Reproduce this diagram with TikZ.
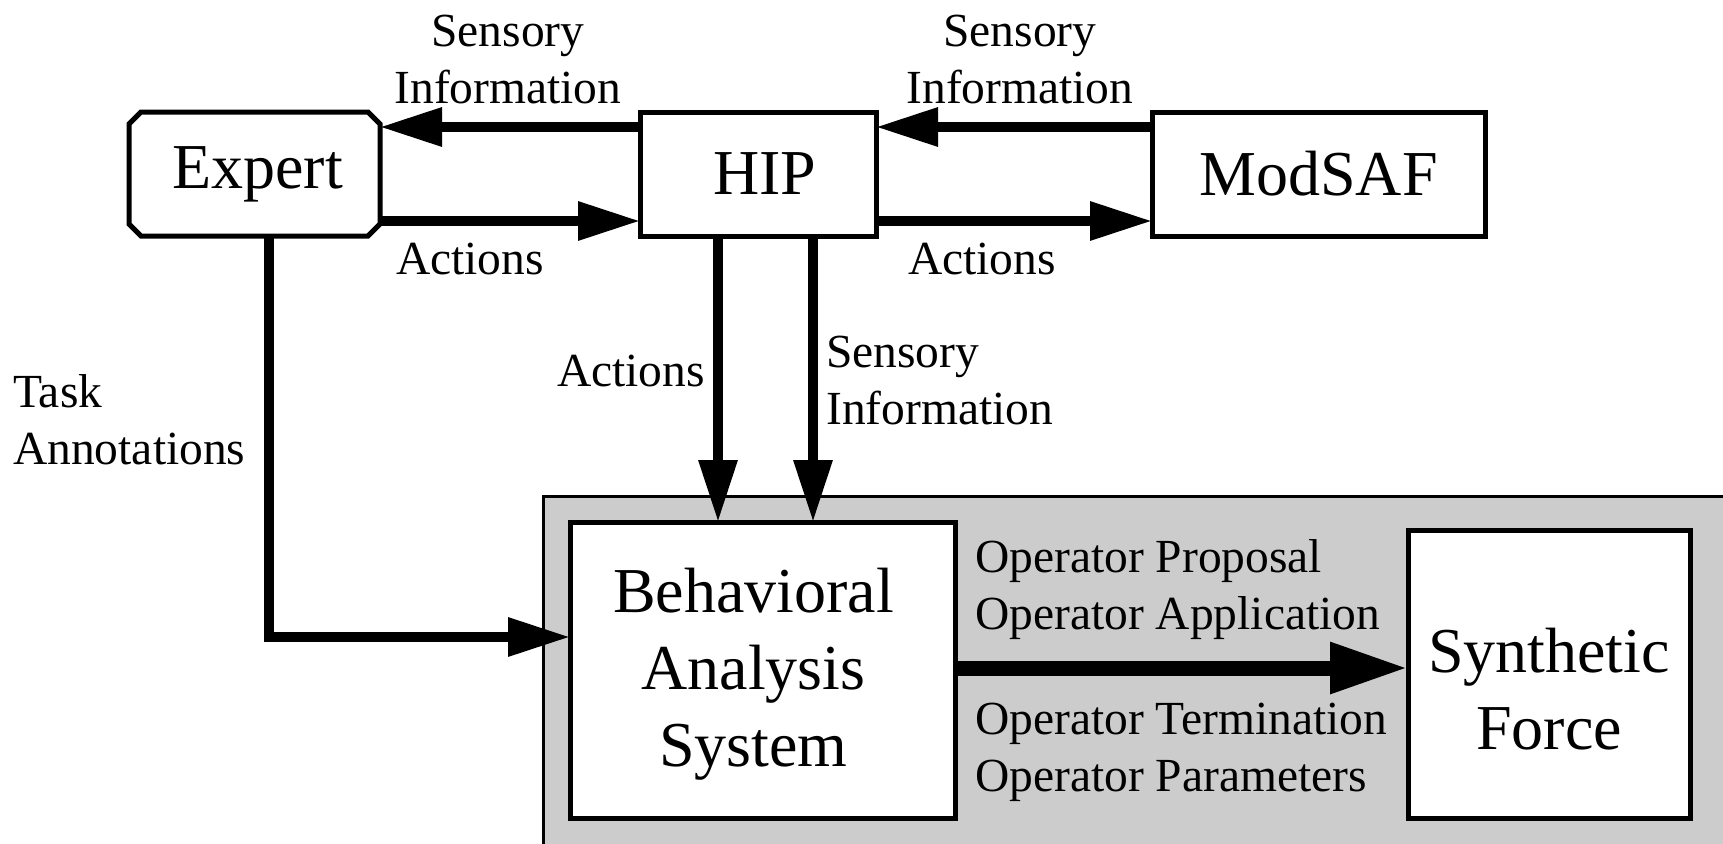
\documentclass[tikz,border=0pt]{standalone}
\usepackage{fontspec}
\setmainfont{Liberation Serif}
\usetikzlibrary{arrows.meta}
\definecolor{panelgray}{RGB}{204,204,204}
\tikzset{
  box/.style={draw=black, line width=5pt, fill=white, inner sep=0pt, outer sep=0pt, align=center, font=\fontsize{64}{77}\selectfont},
  bigtext/.style={inner sep=0pt, align=center, font=\fontsize{64}{77}\selectfont},
  lab/.style={inner sep=0pt, font=\fontsize{47.5}{57}\selectfont},
  flow/.style={line width=9.5pt, line join=miter, -{Triangle[length=62pt,width=37pt]}},
  bigflow/.style={line width=15pt, -{Triangle[length=78pt,width=48pt]}},
}
\begin{document}
\begin{tikzpicture}[x=1pt,y=-1pt]
\useasboundingbox (0,0) rectangle (1723,843);
% gray panel
\draw[fill=panelgray, line width=3pt] (543,496) rectangle (1740,860);
% boxes
\node[box, draw=none, fill=none, minimum width=251pt, minimum height=124pt] (expert) at (254.5,174) {};
\draw[line width=5pt, fill=white, line join=miter]
  ([xshift=12pt]expert.north west) -- ([xshift=-12pt]expert.north east) -- ([yshift=-12pt]expert.north east)
  -- ([yshift=12pt]expert.south east) -- ([xshift=-12pt]expert.south east) -- ([xshift=12pt]expert.south west)
  -- ([yshift=12pt]expert.south west) -- ([yshift=-12pt]expert.north west) -- cycle;
\node[bigtext] (experttext) at ([xshift=3pt]expert.center) {Expert};
\node[box, minimum width=236pt, minimum height=124pt] (hip) at (758,174) {};
\node[bigtext] (hiptext) at ([xshift=7pt]hip.center) {HIP};
\node[box, minimum width=333pt, minimum height=124pt] (modsaf) at (1318.5,174) {ModSAF};
\node[box, minimum width=385pt, minimum height=296pt] (bas) at (762.5,670) {};
\node[bigtext] (bastext) at ([xshift=-9pt,yshift=-4pt]bas.center) {Behavioral\\Analysis\\System};
\node[box, minimum width=282pt, minimum height=288pt] (sf) at (1549,674) {};
\node[bigtext] (sftext) at ([yshift=-15pt]sf.center) {Synthetic\\Force};
% connectors
\draw[flow] ([yshift=47pt]hip.west) -- ([yshift=47pt]hip.west -| expert.east);
\draw[flow] ([yshift=-47pt]expert.east) -- ([yshift=-47pt]expert.east -| hip.west);
\draw[flow] ([yshift=47pt]modsaf.west) -- ([yshift=47pt]modsaf.west -| hip.east);
\draw[flow] ([yshift=-47pt]hip.east) -- ([yshift=-47pt]hip.east -| modsaf.west);
\draw[flow] ([xshift=-40pt]hip.south) -- ([xshift=-40pt]hip.south |- bas.north);
\draw[flow] ([xshift=55pt]hip.south) -- ([xshift=55pt]hip.south |- bas.north);
\draw[flow] ([xshift=14.5pt]expert.south) |- ([yshift=33pt]bas.west);
\draw[bigflow] ([yshift=2pt]bas.east) -- ([yshift=2pt]bas.east -| sf.west);
% labels
\node[lab, align=center] (l1) at (508,60) {Sensory\\Information};
\node[lab, align=center] (l2) at (1020,60) {Sensory\\Information};
\node[lab] (l3) at (470,259) {Actions};
\node[lab] (l4) at (982,259) {Actions};
\node[lab] (l5) at (631,371) {Actions};
\node[lab, align=left, anchor=west] (l6) at (826,381) {Sensory\\Information};
\node[lab, align=left, anchor=west] (l7) at (13,420) {Task\\Annotations};
\node[lab, align=left, anchor=west] (l8) at (975,590) {Operator Proposal\\Operator Application};
\node[lab, align=left, anchor=west] (l9) at (975,752) {Operator Termination\\Operator Parameters};
\end{tikzpicture}
\end{document}
